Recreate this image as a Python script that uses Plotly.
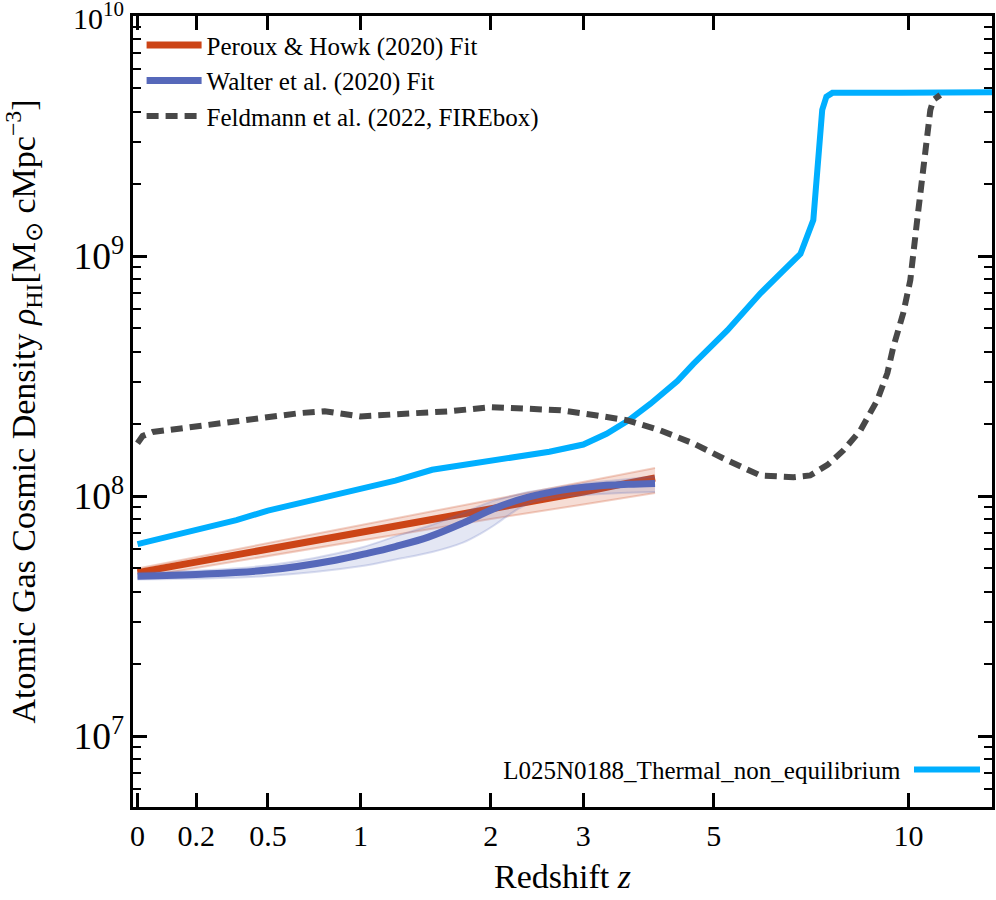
import plotly.graph_objects as go

# simulation run (cyan)
z_sim = [0, 0.10, 0.22, 0.36, 0.50, 0.67, 0.85, 1.05, 1.23, 1.50, 1.75, 2.0, 2.25, 2.60, 3.0,
         3.30, 3.60, 3.93, 4.36, 4.63, 5.26, 5.94, 6.40, 6.86, 7.18, 7.26, 7.33, 7.41, 7.52,
         7.68, 9.7, 13.3]
rho_sim = [6.31e7, 6.76e7, 7.33e7, 7.94e7, 8.71e7, 9.44e7, 1.012e8, 1.096e8, 1.161e8, 1.288e8,
           1.349e8, 1.413e8, 1.462e8, 1.531e8, 1.641e8, 1.82e8, 2.065e8, 2.427e8, 3.02e8,
           3.55e8, 4.9e8, 7.0e8, 8.51e8, 1.023e9, 1.413e9, 1.995e9, 3.02e9, 4.07e9, 4.62e9,
           4.79e9, 4.80e9, 4.82e9]

# Feldmann et al. (2022) FIREbox
z_fire = [0, 0.016, 0.048, 0.216, 0.42, 0.66, 0.79, 1.0, 1.27, 1.65, 2.0, 2.4, 2.73, 3.13,
          3.59, 4.08, 4.63, 5.26, 5.94, 6.69, 7.10, 7.55, 7.98, 8.47, 8.98, 9.30, 9.49, 9.82,
          10.06, 10.31, 10.59, 10.77, 10.88, 11.14]
rho_fire = [1.66e8, 1.78e8, 1.85e8, 1.96e8, 2.11e8, 2.22e8, 2.26e8, 2.15e8, 2.20e8, 2.26e8,
            2.35e8, 2.30e8, 2.28e8, 2.18e8, 2.07e8, 1.88e8, 1.66e8, 1.41e8, 1.22e8, 1.20e8,
            1.22e8, 1.35e8, 1.55e8, 1.88e8, 2.51e8, 3.26e8, 4.18e8, 5.79e8, 7.94e8, 1.45e9,
            2.77e9, 4.06e9, 4.47e9, 4.69e9]

# Peroux & Howk (2020) fit
z_ph = [0, 0.5, 1, 1.5, 2, 2.5, 3, 3.5, 4]
rho_ph = [4.8e7, 6.0e7, 7.1e7, 8.0e7, 8.9e7, 9.7e7, 1.04e8, 1.12e8, 1.19e8]
z_ph_band = [0, 1, 2, 3, 4]
rho_ph_hi = [5.0e7, 7.57e7, 9.6e7, 1.143e8, 1.31e8]
rho_ph_lo = [4.57e7, 6.53e7, 8.04e7, 9.23e7, 1.03e8]

# Walter et al. (2020) fit
z_wa = [0, 0.22, 0.5, 0.85, 1.05, 1.23, 1.47, 1.75, 2.04, 2.37, 2.75, 3.15, 3.6, 4.0]
rho_wa = [4.64e7, 4.73e7, 4.92e7, 5.41e7, 5.79e7, 6.17e7, 6.75e7, 7.72e7, 8.91e7, 9.91e7,
          1.06e8, 1.10e8, 1.12e8, 1.13e8]
z_wa_band = [0, 0.5, 1.0, 1.23, 1.5, 1.75, 1.9, 2.04, 2.2, 2.37, 2.7, 3.0, 3.5, 4.0]
rho_wa_hi = [4.8e7, 5.15e7, 6.1e7, 6.8e7, 7.6e7, 8.5e7, 9.1e7, 9.6e7, 1.0e8, 1.04e8, 1.09e8,
             1.13e8, 1.17e8, 1.21e8]
rho_wa_lo = [4.5e7, 4.65e7, 5.1e7, 5.45e7, 5.85e7, 6.4e7, 6.95e7, 7.6e7, 8.5e7, 9.3e7,
             9.9e7, 1.01e8, 1.03e8, 1.04e8]

z_ticks = [0, 0.2, 0.5, 1, 2, 3, 5, 10]
z_ticklabels = ["0", "0.2", "0.5", "1", "2", "3", "5", "10"]

RED = "#cc4416"
BLUE = "#5668ba"
CYAN = "#00afff"
GREY = "#484848"
FONT = "Liberation Serif"


def opz(z):
    return [1 + v for v in z]


fig = go.Figure()

fig.add_trace(go.Scatter(x=opz(z_sim), y=rho_sim, mode="lines", name="",
                         line=dict(color=CYAN, width=6), legend="legend2"))

# Peroux band + line
fig.add_trace(go.Scatter(x=opz(z_ph_band), y=rho_ph_lo, mode="lines", showlegend=False,
                         line=dict(color="rgba(204,68,22,0.25)", width=2), hoverinfo="skip"))
fig.add_trace(go.Scatter(x=opz(z_ph_band), y=rho_ph_hi, mode="lines", showlegend=False,
                         fill="tonexty", fillcolor="rgba(204,68,22,0.18)",
                         line=dict(color="rgba(204,68,22,0.25)", width=2), hoverinfo="skip"))
fig.add_trace(go.Scatter(x=opz(z_ph), y=rho_ph, mode="lines", name="Peroux & Howk (2020) Fit",
                         legendgroup="a", line=dict(color=RED, width=7)))

# Walter band + line
fig.add_trace(go.Scatter(x=opz(z_wa_band), y=rho_wa_lo, mode="lines", showlegend=False,
                         line=dict(color="rgba(86,104,186,0.22)", width=2, shape="spline"),
                         hoverinfo="skip"))
fig.add_trace(go.Scatter(x=opz(z_wa_band), y=rho_wa_hi, mode="lines", showlegend=False,
                         fill="tonexty", fillcolor="rgba(86,104,186,0.16)",
                         line=dict(color="rgba(86,104,186,0.22)", width=2, shape="spline"),
                         hoverinfo="skip"))
fig.add_trace(go.Scatter(x=opz(z_wa), y=rho_wa, mode="lines", name="Walter et al. (2020) Fit",
                         legendgroup="b", line=dict(color=BLUE, width=7, shape="spline")))

fig.add_trace(go.Scatter(x=opz(z_fire), y=rho_fire, mode="lines",
                         name="Feldmann et al. (2022, FIREbox)", legendgroup="c",
                         line=dict(color=GREY, width=6, dash="12px,7px")))

tickfont = dict(family=FONT, size=30, color="black")
titlefont = dict(family=FONT, size=34, color="black")
axis_common = dict(showline=True, linecolor="black", linewidth=3, mirror="allticks",
                   ticks="inside", ticklen=14, tickwidth=2.5, tickcolor="black",
                   showgrid=False, zeroline=False, automargin=False, tickfont=tickfont)

fig.update_xaxes(type="log", range=[-0.0061, 1.1541],
                 tickvals=opz(z_ticks), ticktext=z_ticklabels,
                 title=dict(text="Redshift <i>z</i>", font=titlefont, standoff=14),
                 **axis_common)
fig.update_yaxes(type="log", range=[6.705, 10.0005], dtick=1, exponentformat="power",
                 minor=dict(ticks="inside", ticklen=8, tickwidth=2, tickcolor="black",
                            dtick="D1", showgrid=False),
                 title=dict(text="Atomic Gas Cosmic Density <i>ρ</i><sub>HI</sub>[M<sub>⊙</sub> cMpc<sup>−3</sup>]",
                            font=titlefont, standoff=44),
                 **axis_common)

# top decade label: plotly hides this tick label because it runs past the page top
fig.add_annotation(text="10<sup>10</sup>", xref="paper", x=0, yref="y", y=10,
                   xanchor="right", yanchor="middle", xshift=-7, showarrow=False,
                   font=tickfont)

fig.update_layout(
    width=996, height=900,
    margin=dict(l=133, r=4, t=16, b=93),
    plot_bgcolor="white", paper_bgcolor="white",
    font=dict(family=FONT, color="black"),
    showlegend=True,
    legend=dict(x=0.01, y=0.992, xanchor="left", yanchor="top", bgcolor="rgba(0,0,0,0)",
                font=dict(family=FONT, size=25, color="black"), tracegroupgap=0,
                itemwidth=55),
    legend2=dict(x=0.998, y=0.018, xanchor="right", yanchor="bottom", bgcolor="rgba(0,0,0,0)",
                 title=dict(text="L025N0188_Thermal_non_equilibrium", side="left",
                            font=dict(family=FONT, size=25, color="black")),
                 font=dict(family=FONT, size=25, color="black"), itemwidth=66),
)

fig.write_html("out.html", config={"displayModeBar": False},
               post_script="document.body.style.margin='0px';")
